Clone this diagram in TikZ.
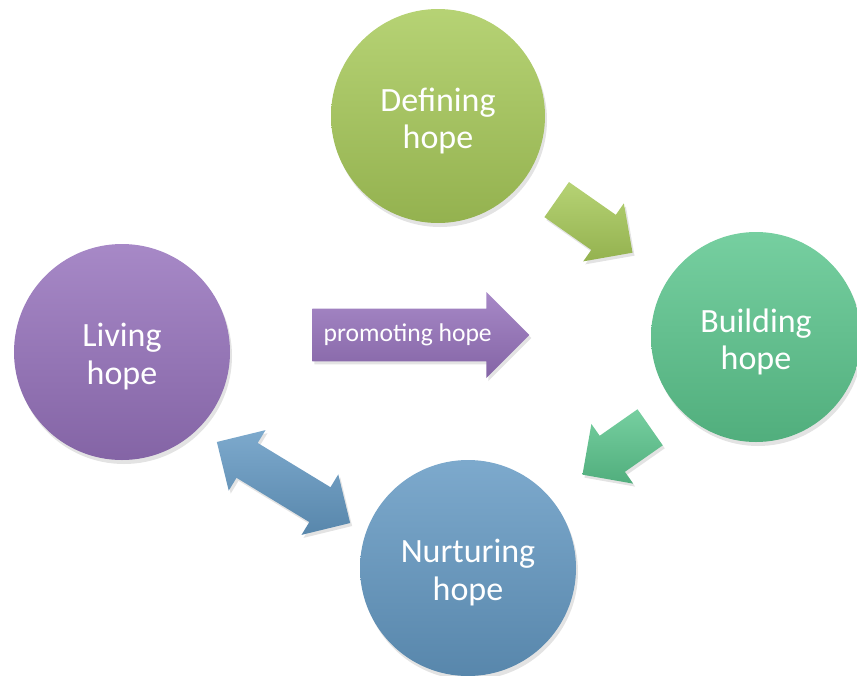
\documentclass[tikz,border=0pt]{standalone}
\usepackage{fontspec}
\setmainfont{Carlito}
\usetikzlibrary{shapes.arrows,shadows}

\definecolor{defgreen}{HTML}{A8CA5A}
\definecolor{buildgreen}{HTML}{5CC68E}
\definecolor{livpurple}{HTML}{9672BC}
\definecolor{nurblue}{HTML}{6499C3}

\tikzset{
  ballfill/.style={top color=#1!84!white, middle color=#1, bottom color=#1!88!black},
  hopecircle/.style={circle, minimum size=#1, inner sep=0pt,
    drop shadow={opacity=0.22, shadow xshift=1pt, shadow yshift=-2pt}},
  hopetext/.style={text=white, align=center, font=\fontsize{17}{18.8}\selectfont},
  blockarrow/.style={single arrow, single arrow head indent=0pt,
    single arrow tip angle=90, inner xsep=0pt, minimum width=0pt,
    drop shadow={opacity=0.22, shadow xshift=1pt, shadow yshift=-1.5pt}},
  twinarrow/.style={double arrow, double arrow head indent=0pt,
    double arrow tip angle=90, inner xsep=0pt, minimum width=0pt,
    drop shadow={opacity=0.22, shadow xshift=1pt, shadow yshift=-1.5pt}}
}

\begin{document}
\begin{tikzpicture}[x=0.5pt,y=-0.5pt]

  \useasboundingbox (0,0) rectangle (857,675);

  % Les quatre cercles
  \node[hopecircle=107pt, ballfill=defgreen,
    label={[hopetext, yshift=-2.4pt]center:Defining\\hope}]   (defining)  at (438,116) {};
  \node[hopecircle=105pt, ballfill=buildgreen,
    label={[hopetext, yshift=-2.4pt]center:Building\\hope}]   (building)  at (756,337) {};
  \node[hopecircle=108pt, ballfill=livpurple,
    label={[hopetext, yshift=-2.4pt]center:Living\\hope}]     (living)    at (122,352) {};
  \node[hopecircle=108pt, ballfill=nurblue,
    label={[hopetext, yshift=-2.4pt]center:Nurturing\\hope}]  (nurturing) at (468,568) {};

  % Fleches simples
  \node[blockarrow, ballfill=defgreen, rotate=-35, anchor=tip,
    minimum height=46.3pt, inner ysep=10.5pt, single arrow head extend=7pt]
    (defbuild) at (633,253) {};
  \node[blockarrow, ballfill=buildgreen, rotate=-145, anchor=tip,
    minimum height=41.3pt, inner ysep=10.8pt, single arrow head extend=7.2pt]
    (buildnur) at (582,475) {};

  % Fleche avec texte
  \node[blockarrow, ballfill=livpurple, anchor=tip, text=white,
    font=\fontsize{12.8}{14}\selectfont, text height=9pt, text depth=3pt,
    minimum height=108.5pt, inner ysep=7pt, single arrow head extend=8.3pt]
    (promoting) at (530,335) {promoting hope};

  % Fleche double
  \node[twinarrow, ballfill=nurblue, rotate=-31.3,
    minimum height=78pt, inner ysep=10pt, double arrow head extend=7.5pt]
    (livnur) at (283.5,482.5) {};

\end{tikzpicture}
\end{document}
